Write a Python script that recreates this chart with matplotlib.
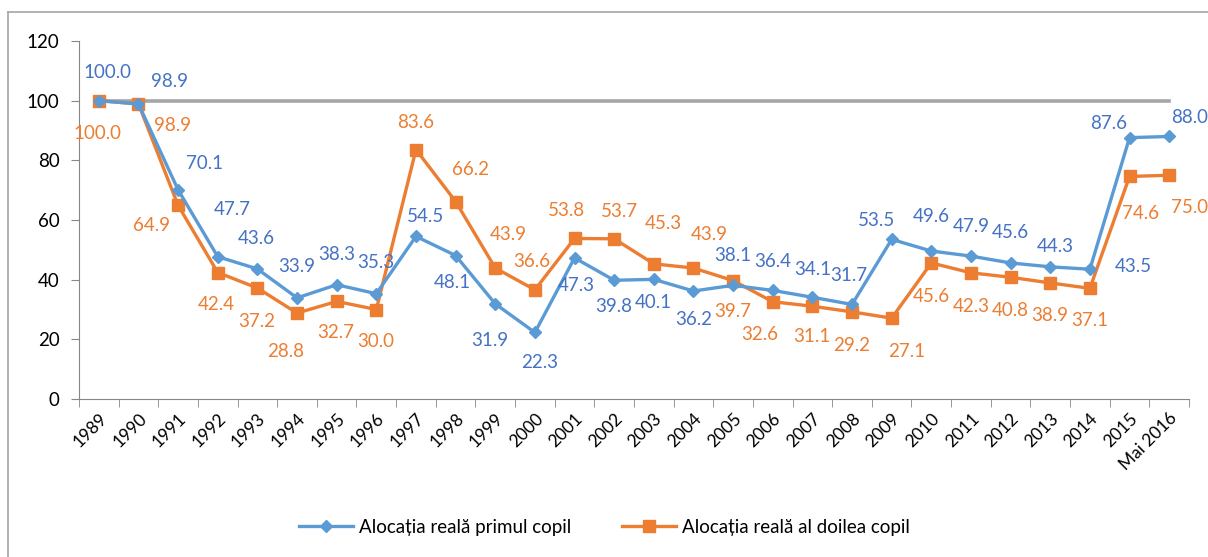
import numpy as np
import matplotlib.pyplot as plt
from matplotlib.lines import Line2D

years = ['1989', '1990', '1991', '1992', '1993', '1994', '1995', '1996', '1997', '1998',
         '1999', '2000', '2001', '2002', '2003', '2004', '2005', '2006', '2007', '2008',
         '2009', '2010', '2011', '2012', '2013', '2014', '2015', 'Mai 2016']
primul = [100.0, 98.9, 70.1, 47.7, 43.6, 33.9, 38.3, 35.3, 54.5, 48.1,
          31.9, 22.3, 47.3, 39.8, 40.1, 36.2, 38.1, 36.4, 34.1, 31.7,
          53.5, 49.6, 47.9, 45.6, 44.3, 43.5, 87.6, 88.0]
doilea = [100.0, 98.9, 64.9, 42.4, 37.2, 28.8, 32.7, 30.0, 83.6, 66.2,
          43.9, 36.6, 53.8, 53.7, 45.3, 43.9, 39.7, 32.6, 31.1, 29.2,
          27.1, 45.6, 42.3, 40.8, 38.9, 37.1, 74.6, 75.0]
ref_level = 100

# label offsets in pixels (dx, dy), dy positive = up
off_primul = [(9, 28), (31, 22), (26, 26), (15, 47), (-1, 30), (0, 31), (0, 30), (-1, 31),
              (10, 20), (-3, -27), (-5, -37), (5, -30), (2, -28), (0, -26), (0, -23), (0, -28),
              (0, 30), (0, 29), (0, 28), (-3, 29), (-15, 19), (0, 35), (0, 30), (0, 30),
              (5, 20), (43, 3), (-21, 14), (20, 19)]
off_doilea = [(-1, -33), (34, -22), (-27, -20), (-1, -32), (-1, -33), (-11, -38), (-1, -31), (-1, -32),
              (0, 27), (15, 32), (13, 34), (-3, 28), (-8, 28), (5, 27), (10, 40), (16, 34),
              (0, -31), (-13, -33), (-1, -30), (0, -34), (15, -33), (0, -34), (0, -34), (0, -33),
              (-1, -33), (0, -32), (11, -37), (20, -32)]

blue_line = '#5B9BD5'
blue_txt = '#4472C4'
orange = '#ED7D31'

plt.rcParams['font.family'] = ['Lato', 'DejaVu Sans']

fig = plt.figure(figsize=(12.08, 5.57), dpi=100)
ax = fig.add_axes([79/1208, 1-399/557, (1189-79)/1208, (399-41)/557])

x = np.arange(len(years))
ax.plot([x[0], x[-1]], [ref_level, ref_level], color='#A5A5A5', lw=2.6, zorder=1)
ax.plot(x, doilea, color=orange, lw=2.4, marker='s', ms=9, zorder=2)
ax.plot(x, primul, color=blue_line, lw=2.4, marker='D', ms=6.5, zorder=3)

px = 72 / 100
for i in range(len(x)):
    ax.annotate(f'{primul[i]:.1f}', (x[i], primul[i]), xytext=(off_primul[i][0]*px, off_primul[i][1]*px),
                textcoords='offset points', ha='center', va='center', color=blue_txt,
                fontsize=13.5, annotation_clip=False)
    ax.annotate(f'{doilea[i]:.1f}', (x[i], doilea[i]), xytext=(off_doilea[i][0]*px, off_doilea[i][1]*px),
                textcoords='offset points', ha='center', va='center', color=orange,
                fontsize=13.5, annotation_clip=False)

ax.set_xlim(-0.5, len(years) - 0.5)
ax.set_ylim(0, 120)
ax.set_yticks(range(0, 121, 20))
ax.set_xticks(x)
ax.set_xticklabels(years, rotation=45, ha='right', rotation_mode='anchor', fontsize=12.5)
ax.set_xticks(np.arange(-0.5, len(years), 1), minor=True)
ax.tick_params(axis='x', which='major', length=0, pad=8)
ax.tick_params(axis='x', which='minor', length=6, color='#868686')
ax.tick_params(axis='y', length=6, color='#868686', labelsize=13.5, pad=8)
for s in ['top', 'right']:
    ax.spines[s].set_visible(False)
for s in ['left', 'bottom']:
    ax.spines[s].set_color('#868686')

handles = [Line2D([], [], color=blue_line, lw=2.4, marker='D', ms=6),
           Line2D([], [], color=orange, lw=2.4, marker='s', ms=8)]
fig.legend(handles, ['Alocația reală primul copil', 'Alocația reală al doilea copil'],
           loc='center', bbox_to_anchor=(0.5, 1-527/557), ncol=2, frameon=False,
           fontsize=13.5, handlelength=2.9, columnspacing=2.7, handletextpad=0.3)

# chart border
fig.add_artist(Line2D([8/1208, 1], [1-12/557, 1-12/557], color='#A6A6A6', lw=1.2))
fig.add_artist(Line2D([8/1208, 8/1208], [0, 1-12/557], color='#A6A6A6', lw=1.2))

fig.savefig('out.png', dpi=100)
